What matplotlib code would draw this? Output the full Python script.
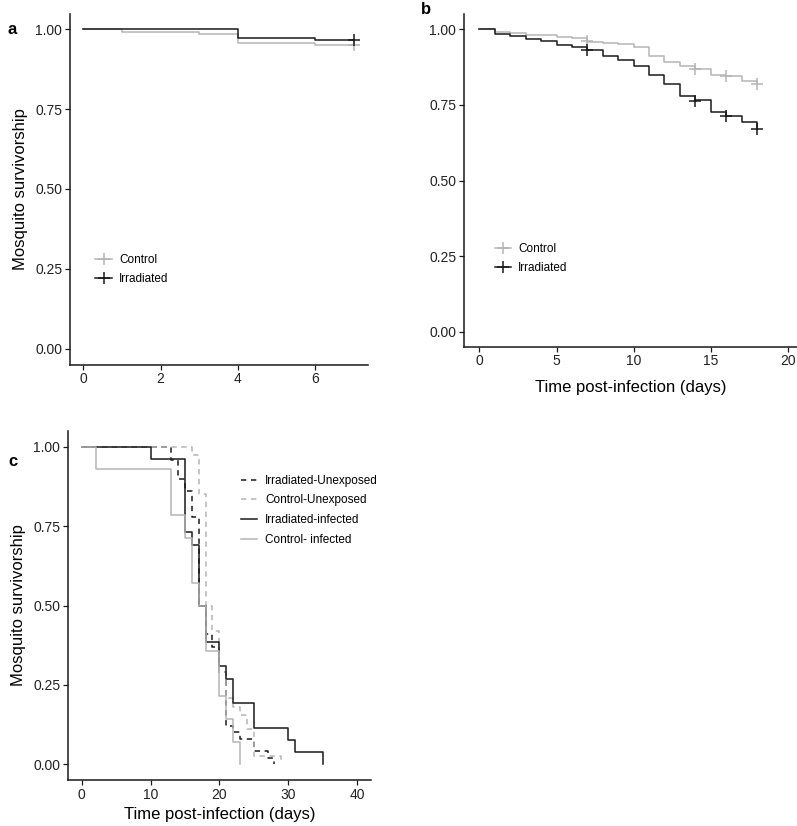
import matplotlib
matplotlib.use("Agg")
import matplotlib.pyplot as plt
from matplotlib.lines import Line2D

plt.rcParams['font.family'] = ['Liberation Sans', 'DejaVu Sans']

# panel a: survival over days 0-7
a_ctrl_t = [0, 1, 3, 4, 6, 7]
a_ctrl_s = [1.0, 0.992, 0.987, 0.957, 0.951, 0.951]
a_irr_t = [0, 4, 6, 7]
a_irr_s = [1.0, 0.974, 0.967, 0.967]
a_cens_t = [7]
a_ctrl_cens = [0.951]
a_irr_cens = [0.967]

# panel b: survival over days 0-18
b_ctrl_t = [0, 1, 2, 3, 5, 6, 7, 8, 9, 10, 11, 12, 13, 14, 15, 16, 17, 18]
b_ctrl_s = [1.0, 0.992, 0.987, 0.981, 0.975, 0.970, 0.959, 0.956, 0.950, 0.943,
            0.913, 0.892, 0.880, 0.869, 0.848, 0.845, 0.830, 0.819]
b_irr_t = [0, 1, 2, 3, 4, 5, 6, 7, 8, 9, 10, 11, 12, 13, 14, 15, 16, 17, 18]
b_irr_s = [1.0, 0.984, 0.977, 0.969, 0.960, 0.949, 0.942, 0.931, 0.913, 0.897,
           0.880, 0.849, 0.819, 0.781, 0.766, 0.725, 0.714, 0.692, 0.669]
b_cens_t = [7, 14, 16, 18]
b_ctrl_cens = [0.963, 0.869, 0.845, 0.819]
b_irr_cens = [0.931, 0.763, 0.714, 0.669]

# panel c: survival after infection
c_labels = ['Irradiated-Unexposed', 'Control-Unexposed', 'Irradiated-infected', 'Control- infected']
c_irr_unexp_t = [0, 13, 14, 15, 16, 17, 18, 19, 20, 21, 22, 23, 25, 27, 28]
c_irr_unexp_s = [1.0, 0.96, 0.90, 0.86, 0.78, 0.50, 0.41, 0.37, 0.29, 0.12, 0.10, 0.08, 0.04, 0.02, 0.0]
c_ctrl_unexp_t = [0, 16, 17, 18, 19, 20, 21, 22, 23, 24, 25, 29]
c_ctrl_unexp_s = [1.0, 0.975, 0.85, 0.50, 0.42, 0.29, 0.21, 0.18, 0.155, 0.11, 0.025, 0.0]
c_irr_inf_t = [0, 10, 15, 16, 17, 18, 20, 21, 22, 25, 30, 31, 35]
c_irr_inf_s = [1.0, 0.962, 0.731, 0.692, 0.500, 0.385, 0.308, 0.269, 0.192, 0.115, 0.077, 0.038, 0.0]
c_ctrl_inf_t = [0, 2, 13, 15, 16, 17, 18, 20, 21, 22, 23]
c_ctrl_inf_s = [1.0, 0.929, 0.786, 0.714, 0.571, 0.500, 0.357, 0.214, 0.143, 0.071, 0.0]

yticks = [0, 0.25, 0.5, 0.75, 1.0]
yticklabels = ['0.00', '0.25', '0.50', '0.75', '1.00']

BLACK = '#1a1a1a'
GREY = '#b5b5b5'
W, H = 797, 826

fig = plt.figure(figsize=(W / 100, H / 100), dpi=100)


def add_ax(left, top, right, bottom):
    # pixel box -> figure fraction
    return fig.add_axes([left / W, 1 - bottom / H, (right - left) / W, (bottom - top) / H])


def style(ax):
    for s in ['top', 'right']:
        ax.spines[s].set_visible(False)
    for s in ['left', 'bottom']:
        ax.spines[s].set_linewidth(1.1)
        ax.spines[s].set_color(BLACK)
    ax.tick_params(length=3.5, width=0.9, color=BLACK, labelsize=10, labelcolor='#222222', pad=2)
    ax.set_yticks(yticks)
    ax.set_yticklabels(yticklabels)
    ax.set_ylim(-0.05, 1.05)


# ---- panel a ----
ax_a = add_ax(69.8, 13.5, 367.5, 364.5)
style(ax_a)
ax_a.step(a_ctrl_t, a_ctrl_s, where='post', color=GREY, lw=1.1)
ax_a.step(a_irr_t, a_irr_s, where='post', color=BLACK, lw=1.1)
ax_a.plot(a_cens_t, a_ctrl_cens, '+', color=GREY, ms=8, mew=1.1)
ax_a.plot(a_cens_t, a_irr_cens, '+', color=BLACK, ms=8, mew=1.1)
ax_a.set_xlim(-0.35, 7.35)
ax_a.set_xticks([0, 2, 4, 6])
ax_a.set_ylabel('Mosquito survivorship', fontsize=12, labelpad=5)
handles = [Line2D([], [], color=GREY, lw=1.1, marker='+', ms=8, mew=1.1),
           Line2D([], [], color=BLACK, lw=1.1, marker='+', ms=8, mew=1.1)]
ax_a.legend(handles, ['Control', 'Irradiated'], loc='center left', bbox_to_anchor=(0.05, 0.27),
            frameon=False, fontsize=8.5, handlelength=1.4, handletextpad=0.6, labelspacing=0.6)

# ---- panel b ----
ax_b = add_ax(464, 14.2, 797, 346.8)
style(ax_b)
ax_b.step(b_ctrl_t, b_ctrl_s, where='post', color=GREY, lw=1.1)
ax_b.step(b_irr_t, b_irr_s, where='post', color=BLACK, lw=1.1)
ax_b.plot(b_cens_t, b_ctrl_cens, '+', color=GREY, ms=8, mew=1.1)
ax_b.plot(b_cens_t, b_irr_cens, '+', color=BLACK, ms=8, mew=1.1)
ax_b.set_xlim(-1, 20.6)
ax_b.set_xticks([0, 5, 10, 15, 20])
ax_b.set_xlabel('Time post-infection (days)', fontsize=12, labelpad=8)
ax_b.legend(handles, ['Control', 'Irradiated'], loc='center left', bbox_to_anchor=(0.06, 0.265),
            frameon=False, fontsize=8.5, handlelength=1.4, handletextpad=0.6, labelspacing=0.6)

# ---- panel c ----
ax_c = add_ax(68, 431, 370.7, 780)
style(ax_c)
ax_c.step(c_irr_unexp_t, c_irr_unexp_s, where='post', color=BLACK, lw=1.1, ls=(0, (3.5, 3)))
ax_c.step(c_ctrl_unexp_t, c_ctrl_unexp_s, where='post', color=GREY, lw=1.1, ls=(0, (3.5, 3)))
ax_c.step(c_irr_inf_t, c_irr_inf_s, where='post', color=BLACK, lw=1.1)
ax_c.step(c_ctrl_inf_t, c_ctrl_inf_s, where='post', color=GREY, lw=1.1)
ax_c.set_xlim(-2, 42)
ax_c.set_xticks([0, 10, 20, 30, 40])
ax_c.set_ylabel('Mosquito survivorship', fontsize=12, labelpad=5)
ax_c.set_xlabel('Time post-infection (days)', fontsize=12, labelpad=4)
c_handles = [Line2D([], [], color=BLACK, lw=1.1, ls=(0, (3.5, 3))),
             Line2D([], [], color=GREY, lw=1.1, ls=(0, (3.5, 3))),
             Line2D([], [], color=BLACK, lw=1.1),
             Line2D([], [], color=GREY, lw=1.1)]
ax_c.legend(c_handles, c_labels, loc='upper left', bbox_to_anchor=(0.535, 0.905),
            frameon=False, fontsize=8.5, handlelength=1.4, handletextpad=0.7, labelspacing=0.65)

# panel letters
fig.text(8 / W, 1 - 30 / H, 'a', fontsize=12, fontweight='bold', va='center')
fig.text(421 / W, 1 - 10 / H, 'b', fontsize=12, fontweight='bold', va='center')
fig.text(8 / W, 1 - 462 / H, 'c', fontsize=12, fontweight='bold', va='center')

fig.savefig('out.png', dpi=100)
